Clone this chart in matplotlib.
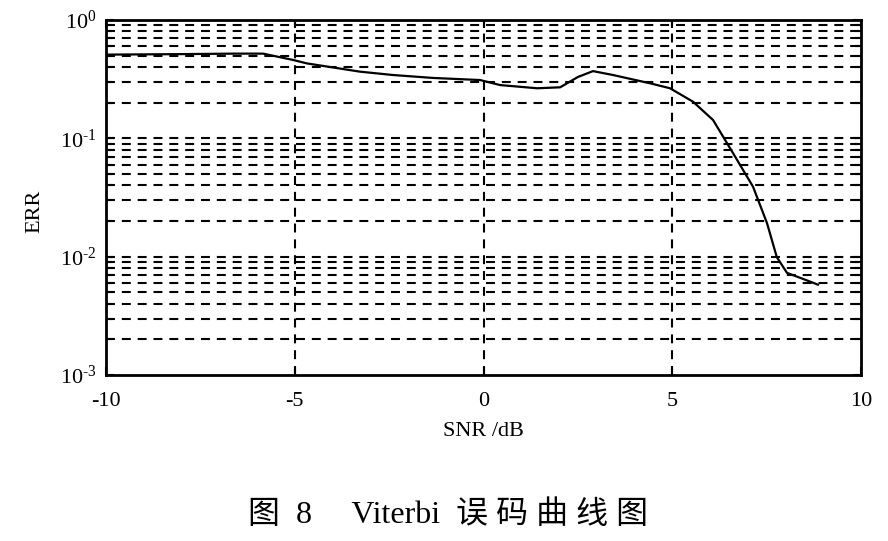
import numpy as np
import matplotlib
matplotlib.use("Agg")
import matplotlib.pyplot as plt
from matplotlib.ticker import LogLocator, NullFormatter

# values
snr = [-10, -8, -6.6, -5.84, -5.05, -4.68, -3.27, -2.40, -1.34, -0.09,
       0.44, 1.42, 2.03, 2.5, 2.9, 3.43, 4.41, 4.94, 5.55, 6.08,
       6.61, 7.14, 7.51, 7.77, 8.04, 8.57, 8.86]
err = [0.51, 0.515, 0.52, 0.52, 0.46, 0.43, 0.366, 0.343, 0.324, 0.311,
       0.282, 0.265, 0.27, 0.33, 0.37, 0.343, 0.292, 0.265, 0.204, 0.143,
       0.075, 0.039, 0.0192, 0.0099, 0.0073, 0.0063, 0.0058]

xticks = [-10, -5, 0, 5, 10]
xlabels = ["-10", "-5", "0", "5", "10"]
yticks = [1e-3, 1e-2, 1e-1, 1e0]
ylabels = [r"$\mathregular{10^{\text{-}3}}$", r"$\mathregular{10^{\text{-}2}}$",
           r"$\mathregular{10^{\text{-}1}}$", r"$\mathregular{10^{0}}$"]

plt.rcParams['font.family'] = ['Liberation Serif', 'Noto Sans CJK SC']
plt.rcParams['mathtext.fontset'] = 'custom'
plt.rcParams['mathtext.rm'] = 'Liberation Serif'

fig = plt.figure(figsize=(8.88, 5.41), dpi=100)
ax = fig.add_axes([0.1194, 0.3068, 0.8502, 0.6562])

ax.plot(snr, err, color='black', linewidth=1.6)

ax.set_xlim(-10, 10)
ax.set_yscale('log')
ax.set_ylim(1e-3, 1)
ax.set_xticks(xticks)
ax.set_xticklabels(xlabels)
ax.set_yticks(yticks)
ax.set_yticklabels(ylabels)
ax.yaxis.set_minor_locator(LogLocator(base=10, subs=np.arange(2, 10), numticks=10))
ax.yaxis.set_minor_formatter(NullFormatter())

# dashed grid: vertical at major x, horizontal at every decade step
for v in [-5, 0, 5]:
    ax.axvline(v, color='black', linewidth=1.5, dashes=(4.3, 3.3))
ygrid = [m * 10.0 ** e for e in (-3, -2, -1) for m in range(1, 10)][1:]
for g in ygrid:
    ax.axhline(g, color='black', linewidth=1.5, dashes=(4.3, 3.3))

ax.tick_params(which='both', direction='in', top=True, right=True,
               labelsize=16, width=1.5)
ax.tick_params(which='major', length=6)
ax.tick_params(which='minor', length=4)
ax.tick_params(axis='x', pad=12)
ax.tick_params(axis='y', pad=7)
for s in ax.spines.values():
    s.set_linewidth(2)

ax.set_xlabel("SNR /dB", fontsize=16, labelpad=8)
ax.set_ylabel("ERR", fontsize=16)
ax.yaxis.set_label_coords(-0.082, 0.46)

fig.text(0.505, 0.048, "图  8　 Viterbi  误 码 曲 线 图", ha='center', va='center',
         fontsize=23)

fig.savefig("out.png", dpi=100, facecolor='white')
